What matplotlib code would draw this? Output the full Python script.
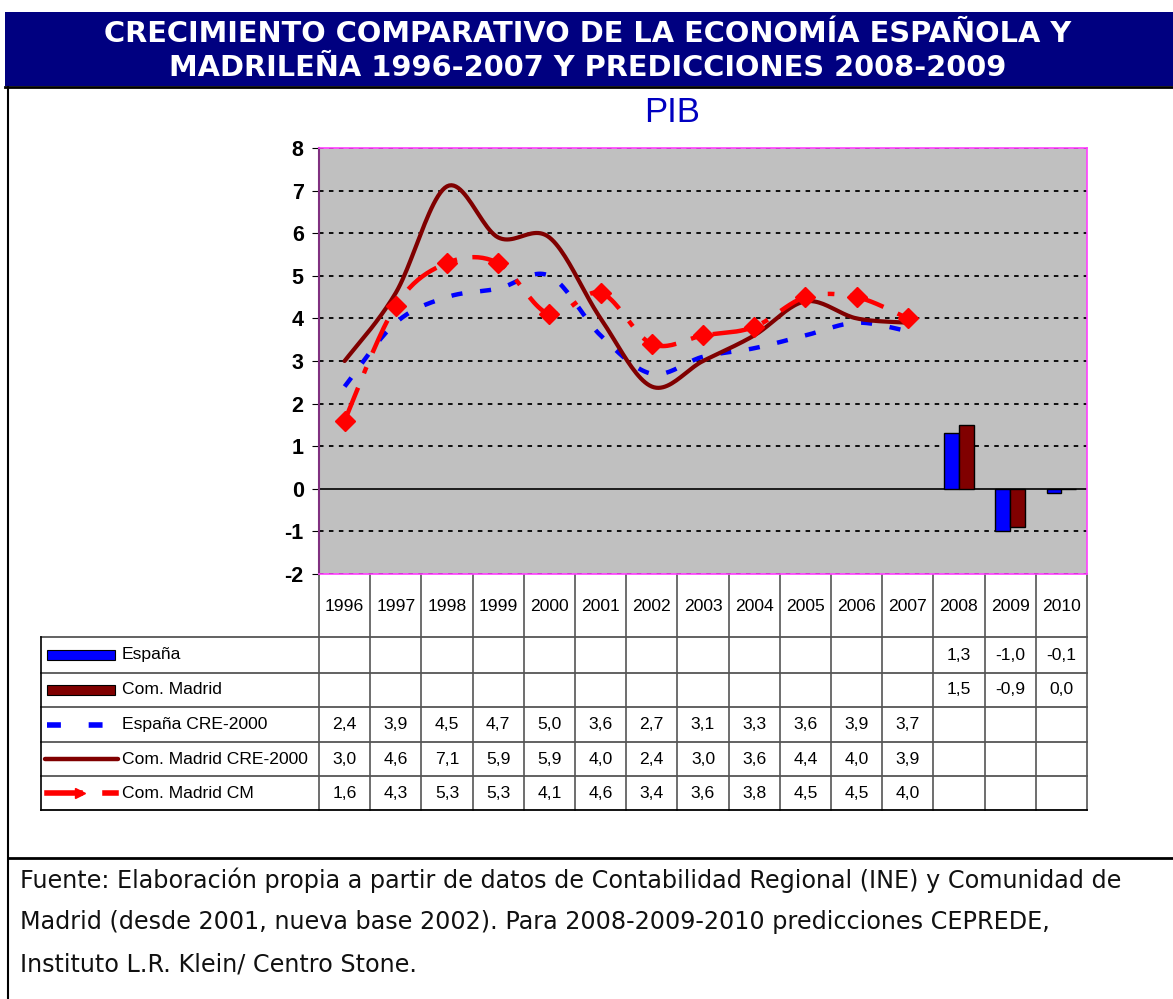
import numpy as np
import matplotlib
matplotlib.use("Agg")
import matplotlib.pyplot as plt
from matplotlib.patches import Rectangle

# datos
years = [str(y) for y in range(1996, 2011)]
espana_cre = [2.4, 3.9, 4.5, 4.7, 5.0, 3.6, 2.7, 3.1, 3.3, 3.6, 3.9, 3.7]
madrid_cre = [3.0, 4.6, 7.1, 5.9, 5.9, 4.0, 2.4, 3.0, 3.6, 4.4, 4.0, 3.9]
madrid_cm = [1.6, 4.3, 5.3, 5.3, 4.1, 4.6, 3.4, 3.6, 3.8, 4.5, 4.5, 4.0]
espana_pred = [1.3, -1.0, -0.1]
madrid_pred = [1.5, -0.9, 0.0]
serie_names = ['España', 'Com. Madrid', 'España CRE-2000',
               'Com. Madrid CRE-2000', 'Com. Madrid CM']

W, H = 1173, 999
L, R, T, B = 319, 1087, 148, 574   # area del grafico en pixeles
ncat = len(years)
cw = (R - L) / ncat

NAVY = '#000080'
BLUE = '#0000FF'
MAROON = '#800000'
RED = '#FF0000'


def smooth(x, y, n=24):
    # suavizado tipo Excel (bezier catmull-rom)
    pts = np.column_stack([x, y]).astype(float)
    P = np.vstack([pts[0], pts, pts[-1]])
    out = []
    t = np.linspace(0, 1, n)[:, None]
    for i in range(1, len(P) - 2):
        p0, p1, p2, p3 = P[i - 1], P[i], P[i + 1], P[i + 2]
        c1 = p1 + (p2 - p0) / 6
        c2 = p2 - (p3 - p1) / 6
        seg = (1 - t) ** 3 * p1 + 3 * (1 - t) ** 2 * t * c1 + 3 * (1 - t) * t ** 2 * c2 + t ** 3 * p2
        out.append(seg if i == 1 else seg[1:])
    return np.vstack(out)


def fmt(v):
    return f"{v:.1f}".replace('.', ',')


fig = plt.figure(figsize=(W / 100, H / 100), dpi=100)
fig.patch.set_facecolor('white')

# capa de fondo en pixeles
ax0 = fig.add_axes([0, 0, 1, 1], zorder=0)
ax0.set_xlim(0, W)
ax0.set_ylim(H, 0)
ax0.axis('off')

ax0.add_patch(Rectangle((5, 12), W - 5, 74, facecolor=NAVY, edgecolor='none'))
ax0.plot([5, W], [87, 87], color='black', lw=2)
ax0.plot([8, 8], [87, H], color='black', lw=1.5)
ax0.plot([8, W], [858, 858], color='black', lw=2)
ax0.text(588, 34, 'CRECIMIENTO COMPARATIVO DE LA ECONOMÍA ESPAÑOLA Y',
         color='white', fontsize=20.8, fontweight='bold', family='DejaVu Sans',
         ha='center', va='center')
ax0.text(588, 68, 'MADRILEÑA 1996-2007 Y PREDICCIONES 2008-2009',
         color='white', fontsize=20.8, fontweight='bold', family='DejaVu Sans',
         ha='center', va='center')
ax0.text(672, 113, 'PIB', color='#0000C0', fontsize=25, family='Liberation Sans',
         ha='center', va='center')

foot = ['Fuente: Elaboración propia a partir de datos de Contabilidad Regional (INE) y Comunidad de',
        'Madrid (desde 2001, nueva base 2002). Para 2008-2009-2010 predicciones CEPREDE,',
        'Instituto L.R. Klein/ Centro Stone.']
for i, s in enumerate(foot):
    ax0.text(20, 880 + i * 42.5, s, fontsize=17.2, family='DejaVu Sans',
             ha='left', va='center', color='#111111')

# tabla de datos
row_edges = [574, 637, 673, 707, 742, 776, 810]
LEG = 41
tfont = dict(fontsize=12.6, family='Liberation Sans', color='black')
for i in range(ncat + 1):
    x = L + i * cw
    ax0.plot([x, x], [row_edges[0], row_edges[-1]], color='#555555', lw=1.2)
for j, yv in enumerate(row_edges[1:]):
    ax0.plot([LEG, R], [yv, yv], color='#555555' if j < 5 else 'black', lw=1.3)
ax0.plot([LEG, LEG], [row_edges[1], row_edges[-1]], color='black', lw=1.2)
for i, yr in enumerate(years):
    ax0.text(L + (i + 0.5) * cw, (row_edges[0] + row_edges[1]) / 2 + 1, yr,
             ha='center', va='center', **tfont)

rows = [
    [None] * 12 + espana_pred,
    [None] * 12 + madrid_pred,
    espana_cre + [None] * 3,
    madrid_cre + [None] * 3,
    madrid_cm + [None] * 3,
]
for r, vals in enumerate(rows):
    yc = (row_edges[r + 1] + row_edges[r + 2]) / 2
    for i, v in enumerate(vals):
        if v is not None:
            ax0.text(L + (i + 0.5) * cw, yc, fmt(v), ha='center', va='center', **tfont)
    ax0.text(122, yc, serie_names[r], ha='left', va='center', **tfont)

# claves de leyenda
yk = [(row_edges[r + 1] + row_edges[r + 2]) / 2 for r in range(5)]
ax0.add_patch(Rectangle((47, yk[0] - 5), 68, 10, facecolor=BLUE, edgecolor='black', lw=0.8))
ax0.add_patch(Rectangle((47, yk[1] - 5), 68, 10, facecolor=MAROON, edgecolor='black', lw=0.8))
ax0.plot([47, 120], [yk[2], yk[2]], color=BLUE, lw=4, linestyle=(0, (2.5, 5)))
ax0.plot([45, 118], [yk[3], yk[3]], color=MAROON, lw=3.2, solid_capstyle='round')
ax0.plot([47, 80], [yk[4], yk[4]], color=RED, lw=4)
ax0.plot([80], [yk[4]], marker='>', color=RED, ms=7)
ax0.plot([105, 116], [yk[4], yk[4]], color=RED, lw=4)

# grafico principal
ax = fig.add_axes([L / W, 1 - B / H, (R - L) / W, (B - T) / H], zorder=1)
ax.set_facecolor('#C0C0C0')
ax.set_xlim(-0.5, ncat - 0.5)
ax.set_ylim(-2, 8)
ax.set_yticks(range(-2, 9))
ax.set_yticklabels([str(v) for v in range(-2, 9)], fontsize=15.5,
                   fontweight='bold', family='Liberation Sans')
ax.tick_params(axis='y', length=5, pad=6, direction='out')
ax.set_xticks([])
for v in range(-2, 9):
    if v != 0:
        ax.axhline(v, color='black', lw=1.3, linestyle=(0, (2.5, 3)), zorder=1)
ax.axhline(0, color='black', lw=1.2, zorder=2)
for s in ['top', 'right', 'bottom']:
    ax.spines[s].set_color('#FF40FF')
    ax.spines[s].set_linewidth(1.2)
ax.spines['left'].set_color('#803080')
ax.spines['left'].set_linewidth(1.5)

xl = np.arange(len(espana_cre))
s1 = smooth(xl, espana_cre)
s2 = smooth(xl, madrid_cre)
s3 = smooth(xl, madrid_cm)
ax.plot(s1[:, 0], s1[:, 1], color=BLUE, lw=3.2, linestyle=(0, (2.5, 4)), zorder=3)
ax.plot(s2[:, 0], s2[:, 1], color=MAROON, lw=3, zorder=4, solid_capstyle='round')
ax.plot(s3[:, 0], s3[:, 1], color=RED, lw=3.2, linestyle=(0, (8, 3.5, 1.5, 3.5)), zorder=5)
ax.plot(xl, madrid_cm, linestyle='none', marker='D', ms=10, color=RED, zorder=6)

xb = np.arange(12, 15)
bw = 0.29
ax.bar(xb - bw / 2, espana_pred, bw, color=BLUE, edgecolor='black', lw=1, zorder=3)
ax.bar(xb + bw / 2, madrid_pred, bw, color=MAROON, edgecolor='black', lw=1, zorder=3)

fig.savefig('out.png', dpi=100)
